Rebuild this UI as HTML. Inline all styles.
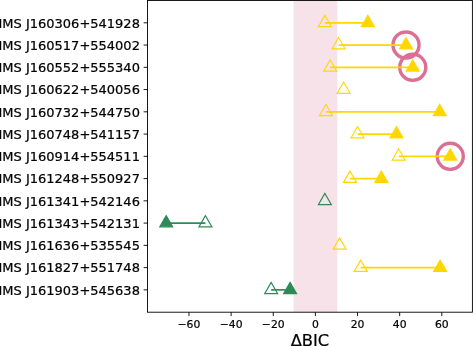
<!DOCTYPE html>
<html><head><meta charset="utf-8"><title>BIC</title>
<style>html,body{margin:0;padding:0;background:#fff;overflow:hidden}svg text{font-family:"DejaVu Sans","Liberation Sans",sans-serif;fill:#000;stroke:#000;stroke-width:0.22px}</style></head>
<body>
<svg width="473" height="346" viewBox="0 0 473 346" style="display:block">
<rect width="473" height="346" fill="#fff"/>
<rect x="293.6" y="0.45" width="43.7" height="311.75" fill="#DB7093" fill-opacity="0.2"/>
<circle cx="406.00" cy="45.05" r="13.05" fill="none" stroke="#DB7093" stroke-width="3.4"/>
<circle cx="412.74" cy="67.31" r="13.05" fill="none" stroke="#DB7093" stroke-width="3.4"/>
<circle cx="450.25" cy="156.33" r="13.05" fill="none" stroke="#DB7093" stroke-width="3.4"/>
<line x1="324.88" y1="22.80" x2="367.86" y2="22.80" stroke="#FFD700" stroke-width="1.65"/>
<line x1="338.58" y1="45.05" x2="406.00" y2="45.05" stroke="#FFD700" stroke-width="1.65"/>
<line x1="330.15" y1="67.31" x2="412.74" y2="67.31" stroke="#FFD700" stroke-width="1.65"/>
<line x1="325.94" y1="111.82" x2="439.71" y2="111.82" stroke="#FFD700" stroke-width="1.65"/>
<line x1="357.54" y1="134.07" x2="396.52" y2="134.07" stroke="#FFD700" stroke-width="1.65"/>
<line x1="398.63" y1="156.33" x2="450.25" y2="156.33" stroke="#FFD700" stroke-width="1.65"/>
<line x1="349.95" y1="178.59" x2="381.35" y2="178.59" stroke="#FFD700" stroke-width="1.65"/>
<line x1="205.41" y1="223.09" x2="166.22" y2="223.09" stroke="#2E8B57" stroke-width="1.65"/>
<line x1="360.70" y1="267.60" x2="440.13" y2="267.60" stroke="#FFD700" stroke-width="1.65"/>
<line x1="271.15" y1="289.86" x2="290.12" y2="289.86" stroke="#2E8B57" stroke-width="1.65"/>
<polygon points="324.88,15.30 318.39,26.55 331.38,26.55" fill="none" stroke="#FFD700" stroke-width="1.15" stroke-linejoin="miter"/>
<polygon points="367.86,15.30 361.37,26.55 374.36,26.55" fill="#FFD700" stroke="#FFD700" stroke-width="1.15" stroke-linejoin="miter"/>
<polygon points="338.58,37.55 332.08,48.80 345.07,48.80" fill="none" stroke="#FFD700" stroke-width="1.15" stroke-linejoin="miter"/>
<polygon points="406.00,37.55 399.51,48.80 412.50,48.80" fill="#FFD700" stroke="#FFD700" stroke-width="1.15" stroke-linejoin="miter"/>
<polygon points="330.15,59.81 323.65,71.06 336.64,71.06" fill="none" stroke="#FFD700" stroke-width="1.15" stroke-linejoin="miter"/>
<polygon points="412.74,59.81 406.25,71.06 419.24,71.06" fill="#FFD700" stroke="#FFD700" stroke-width="1.15" stroke-linejoin="miter"/>
<polygon points="343.63,82.06 337.14,93.31 350.13,93.31" fill="none" stroke="#FFD700" stroke-width="1.15" stroke-linejoin="miter"/>
<polygon points="325.94,104.32 319.44,115.57 332.43,115.57" fill="none" stroke="#FFD700" stroke-width="1.15" stroke-linejoin="miter"/>
<polygon points="439.71,104.32 433.22,115.57 446.21,115.57" fill="#FFD700" stroke="#FFD700" stroke-width="1.15" stroke-linejoin="miter"/>
<polygon points="357.54,126.57 351.04,137.82 364.04,137.82" fill="none" stroke="#FFD700" stroke-width="1.15" stroke-linejoin="miter"/>
<polygon points="396.52,126.57 390.02,137.82 403.01,137.82" fill="#FFD700" stroke="#FFD700" stroke-width="1.15" stroke-linejoin="miter"/>
<polygon points="398.63,148.83 392.13,160.08 405.12,160.08" fill="none" stroke="#FFD700" stroke-width="1.15" stroke-linejoin="miter"/>
<polygon points="450.25,148.83 443.75,160.08 456.74,160.08" fill="#FFD700" stroke="#FFD700" stroke-width="1.15" stroke-linejoin="miter"/>
<polygon points="349.95,171.09 343.46,182.34 356.45,182.34" fill="none" stroke="#FFD700" stroke-width="1.15" stroke-linejoin="miter"/>
<polygon points="381.35,171.09 374.85,182.34 387.84,182.34" fill="#FFD700" stroke="#FFD700" stroke-width="1.15" stroke-linejoin="miter"/>
<polygon points="324.88,193.34 318.39,204.59 331.38,204.59" fill="none" stroke="#2E8B57" stroke-width="1.15" stroke-linejoin="miter"/>
<polygon points="205.41,215.59 198.92,226.84 211.91,226.84" fill="none" stroke="#2E8B57" stroke-width="1.15" stroke-linejoin="miter"/>
<polygon points="166.22,215.59 159.73,226.84 172.72,226.84" fill="#2E8B57" stroke="#2E8B57" stroke-width="1.15" stroke-linejoin="miter"/>
<polygon points="339.63,237.85 333.14,249.10 346.13,249.10" fill="none" stroke="#FFD700" stroke-width="1.15" stroke-linejoin="miter"/>
<polygon points="360.70,260.10 354.21,271.35 367.20,271.35" fill="none" stroke="#FFD700" stroke-width="1.15" stroke-linejoin="miter"/>
<polygon points="440.13,260.10 433.64,271.35 446.63,271.35" fill="#FFD700" stroke="#FFD700" stroke-width="1.15" stroke-linejoin="miter"/>
<polygon points="271.15,282.36 264.66,293.61 277.65,293.61" fill="none" stroke="#2E8B57" stroke-width="1.15" stroke-linejoin="miter"/>
<polygon points="290.12,282.36 283.62,293.61 296.61,293.61" fill="#2E8B57" stroke="#2E8B57" stroke-width="1.15" stroke-linejoin="miter"/>
<rect x="147.5" y="0.45" width="324.9" height="311.75" fill="none" stroke="#000" stroke-width="0.9"/>
<line x1="143.6" y1="22.80" x2="147.5" y2="22.80" stroke="#000" stroke-width="0.9"/>
<text x="139.90" y="27.55" font-size="13.0" text-anchor="end">IMS J160306+541928</text>
<line x1="143.6" y1="45.05" x2="147.5" y2="45.05" stroke="#000" stroke-width="0.9"/>
<text x="139.90" y="49.80" font-size="13.0" text-anchor="end">IMS J160517+554002</text>
<line x1="143.6" y1="67.31" x2="147.5" y2="67.31" stroke="#000" stroke-width="0.9"/>
<text x="139.90" y="72.06" font-size="13.0" text-anchor="end">IMS J160552+555340</text>
<line x1="143.6" y1="89.56" x2="147.5" y2="89.56" stroke="#000" stroke-width="0.9"/>
<text x="139.90" y="94.31" font-size="13.0" text-anchor="end">IMS J160622+540056</text>
<line x1="143.6" y1="111.82" x2="147.5" y2="111.82" stroke="#000" stroke-width="0.9"/>
<text x="139.90" y="116.56" font-size="13.0" text-anchor="end">IMS J160732+544750</text>
<line x1="143.6" y1="134.07" x2="147.5" y2="134.07" stroke="#000" stroke-width="0.9"/>
<text x="139.90" y="138.82" font-size="13.0" text-anchor="end">IMS J160748+541157</text>
<line x1="143.6" y1="156.33" x2="147.5" y2="156.33" stroke="#000" stroke-width="0.9"/>
<text x="139.90" y="161.08" font-size="13.0" text-anchor="end">IMS J160914+554511</text>
<line x1="143.6" y1="178.59" x2="147.5" y2="178.59" stroke="#000" stroke-width="0.9"/>
<text x="139.90" y="183.33" font-size="13.0" text-anchor="end">IMS J161248+550927</text>
<line x1="143.6" y1="200.84" x2="147.5" y2="200.84" stroke="#000" stroke-width="0.9"/>
<text x="139.90" y="205.59" font-size="13.0" text-anchor="end">IMS J161341+542146</text>
<line x1="143.6" y1="223.09" x2="147.5" y2="223.09" stroke="#000" stroke-width="0.9"/>
<text x="139.90" y="227.84" font-size="13.0" text-anchor="end">IMS J161343+542131</text>
<line x1="143.6" y1="245.35" x2="147.5" y2="245.35" stroke="#000" stroke-width="0.9"/>
<text x="139.90" y="250.09" font-size="13.0" text-anchor="end">IMS J161636+535545</text>
<line x1="143.6" y1="267.60" x2="147.5" y2="267.60" stroke="#000" stroke-width="0.9"/>
<text x="139.90" y="272.35" font-size="13.0" text-anchor="end">IMS J161827+551748</text>
<line x1="143.6" y1="289.86" x2="147.5" y2="289.86" stroke="#000" stroke-width="0.9"/>
<text x="139.90" y="294.61" font-size="13.0" text-anchor="end">IMS J161903+545638</text>
<line x1="188.98" y1="312.2" x2="188.98" y2="316.09999999999997" stroke="#000" stroke-width="0.9"/>
<text x="188.98" y="328.01" font-size="10.8" text-anchor="middle">−60</text>
<line x1="231.12" y1="312.2" x2="231.12" y2="316.09999999999997" stroke="#000" stroke-width="0.9"/>
<text x="231.12" y="328.01" font-size="10.8" text-anchor="middle">−40</text>
<line x1="273.26" y1="312.2" x2="273.26" y2="316.09999999999997" stroke="#000" stroke-width="0.9"/>
<text x="273.26" y="328.01" font-size="10.8" text-anchor="middle">−20</text>
<line x1="315.40" y1="312.2" x2="315.40" y2="316.09999999999997" stroke="#000" stroke-width="0.9"/>
<text x="315.40" y="328.01" font-size="10.8" text-anchor="middle">0</text>
<line x1="357.54" y1="312.2" x2="357.54" y2="316.09999999999997" stroke="#000" stroke-width="0.9"/>
<text x="357.54" y="328.01" font-size="10.8" text-anchor="middle">20</text>
<line x1="399.68" y1="312.2" x2="399.68" y2="316.09999999999997" stroke="#000" stroke-width="0.9"/>
<text x="399.68" y="328.01" font-size="10.8" text-anchor="middle">40</text>
<line x1="441.82" y1="312.2" x2="441.82" y2="316.09999999999997" stroke="#000" stroke-width="0.9"/>
<text x="441.82" y="328.01" font-size="10.8" text-anchor="middle">60</text>
<text x="309.95" y="345.5" font-size="16.3" text-anchor="middle">ΔBIC</text>
</svg>
</body></html>
